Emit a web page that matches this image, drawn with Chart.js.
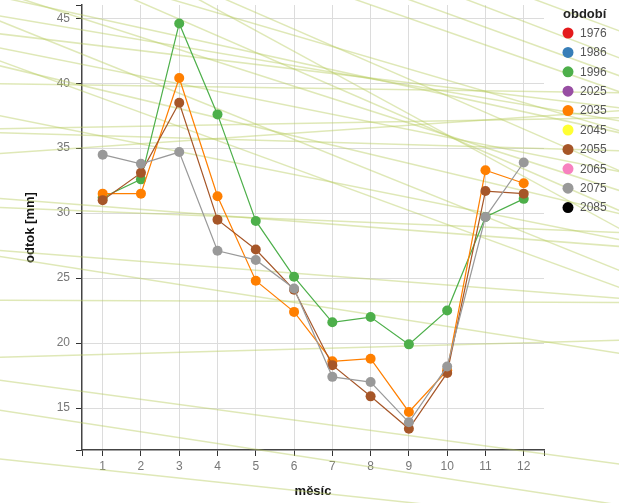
<!DOCTYPE html>
<html><head><meta charset="utf-8">
<script src="https://cdn.jsdelivr.net/npm/chart.js@4.4.1/dist/chart.umd.min.js"></script>
<style>html,body{margin:0;padding:0;background:#fff;}#wrap{width:619px;height:503px;}</style>
</head><body><div id="wrap"><canvas id="c" width="619" height="503"></canvas></div>
<script>
const months = [1,2,3,4,5,6,7,8,9,10,11,12];
const yTickValues = [15,20,25,30,35,40,45];
const periods = ['1976','1986','1996','2025','2035','2045','2055','2065','2075','2085'];
const periodColors = ['#e41a1c','#377eb8','#4daf4a','#984ea3','#ff7f00','#ffff33','#a65628','#f781bf','#999999','#000000'];
const runoff1996 = [31.2,32.6,44.6,37.6,29.4,25.1,21.6,22.0,19.9,22.5,29.7,31.1];
const runoff2035 = [31.5,31.5,40.4,31.3,24.8,22.4,18.6,18.8,14.7,17.9,33.3,32.3];
const runoff2055 = [31.0,33.1,38.5,29.5,27.2,24.1,18.3,15.9,13.4,17.7,31.7,31.5];
const runoff2075 = [34.5,33.8,34.7,27.1,26.4,24.2,17.4,17.0,13.9,18.2,29.7,33.9];
// faint background lines: value at bgX[0] and at bgX[1]
const bgX = [-1.69, 14.5];
const bgStart = [50.32,46.64,47.02,45.18,43.80,42.72,41.34,39.95,37.50,36.50,36.19,34.58,31.12,30.43,27.13,26.67,23.29,18.91,17.14,14.84,11.08,56.01,57.85,61.69,60.15,54.01,50.94,44.79,41.72,54.78];
const bgEnd   = [36.35,36.19,31.74,37.11,38.11,33.20,29.97,39.26,27.97,37.34,34.81,37.88,27.44,28.51,23.44,19.22,23.13,20.22,10.69,7.54,6.01,39.34,40.57,44.03,41.95,33.27,30.20,25.59,24.29,28.82];

const X_MIN = 0.46, X_MAX = 12.53, Y_MIN = 11.77, Y_MAX = 46.02;
const seriesByPeriod = {'1996': runoff1996, '2035': runoff2035, '2055': runoff2055, '2075': runoff2075};
const FONT = '"Liberation Sans", Arial, sans-serif';

const datasets = [];
periods.forEach((p, i) => {
  const vals = seriesByPeriod[p];
  datasets.push({
    label: p, isPeriod: true,
    data: vals ? months.map((m, k) => ({x: m, y: vals[k]})) : [],
    borderColor: periodColors[i], backgroundColor: periodColors[i],
    borderWidth: 1.2, pointRadius: 5, pointBorderWidth: 0, pointHoverRadius: 5,
    order: 20 - i, tension: 0
  });
});
bgStart.forEach((s, i) => {
  datasets.push({
    label: '', data: [{x: bgX[0], y: s}, {x: bgX[1], y: bgEnd[i]}],
    borderColor: 'rgba(185,203,95,0.45)', borderWidth: 1.5, pointRadius: 0,
    clip: false, order: 100
  });
});

const legendPlugin = {
  id: 'periodLegend',
  afterDraw(chart) {
    const ctx = chart.ctx;
    ctx.save();
    ctx.textBaseline = 'middle'; ctx.textAlign = 'left';
    ctx.font = 'bold 13px ' + FONT;
    ctx.fillStyle = '#222';
    ctx.fillText('období', 563, 14);
    ctx.font = '12px ' + FONT;
    chart.data.datasets.filter(d => d.isPeriod).forEach((d, i) => {
      const y = 33 + i * 19.4;
      ctx.beginPath(); ctx.arc(568, y, 5.5, 0, Math.PI * 2);
      ctx.fillStyle = d.backgroundColor; ctx.fill();
      ctx.fillStyle = '#555';
      ctx.fillText(d.label, 580, y + 0.5);
    });
    ctx.restore();
  }
};

new Chart(document.getElementById('c'), {
  type: 'line',
  data: {datasets},
  options: {
    responsive: false, animation: false, devicePixelRatio: 1,
    layout: {padding: {top: 4, right: 75, left: 0, bottom: 0}},
    plugins: {legend: {display: false}, tooltip: {enabled: false}},
    scales: {
      x: {
        type: 'linear', min: X_MIN, max: X_MAX,
        afterBuildTicks: s => { s.ticks = [X_MIN, ...months, X_MAX].map(v => ({value: v})); },
        ticks: {autoSkip: false, maxRotation: 0, padding: 3, color: '#777', font: {size: 12, family: FONT},
          callback: v => months.includes(v) ? String(v) : ''},
        grid: {color: c => (c.tick && months.includes(c.tick.value)) ? '#dcdcdc' : 'rgba(0,0,0,0)',
          tickColor: '#333', tickLength: 6, lineWidth: 1},
        border: {display: true, color: '#444', width: 1.5},
        title: {display: true, text: 'měsíc', color: '#111', font: {size: 13, weight: 'bold', family: FONT}, padding: {top: 0, bottom: 4}},
        afterFit: s => { s.height = 53; s.paddingLeft = 0; s.paddingRight = 0; }
      },
      y: {
        type: 'linear', min: Y_MIN, max: Y_MAX,
        afterBuildTicks: s => { s.ticks = [Y_MIN, ...yTickValues, Y_MAX].map(v => ({value: v})); },
        ticks: {autoSkip: false, padding: 6, color: '#777', font: {size: 12, family: FONT},
          callback: v => yTickValues.includes(v) ? String(v) : ''},
        grid: {color: c => (c.tick && yTickValues.includes(c.tick.value)) ? '#dcdcdc' : 'rgba(0,0,0,0)',
          tickColor: '#333', tickLength: 6, lineWidth: 1},
        border: {display: true, color: '#444', width: 1.5},
        title: {display: true, text: 'odtok [mm]', color: '#111', font: {size: 13, weight: 'bold', family: FONT}, padding: {top: 23, bottom: 0}},
        afterFit: s => { s.width = 82; s.paddingTop = 0; s.paddingBottom = 0; }
      }
    }
  },
  plugins: [legendPlugin]
});
</script></body></html>
